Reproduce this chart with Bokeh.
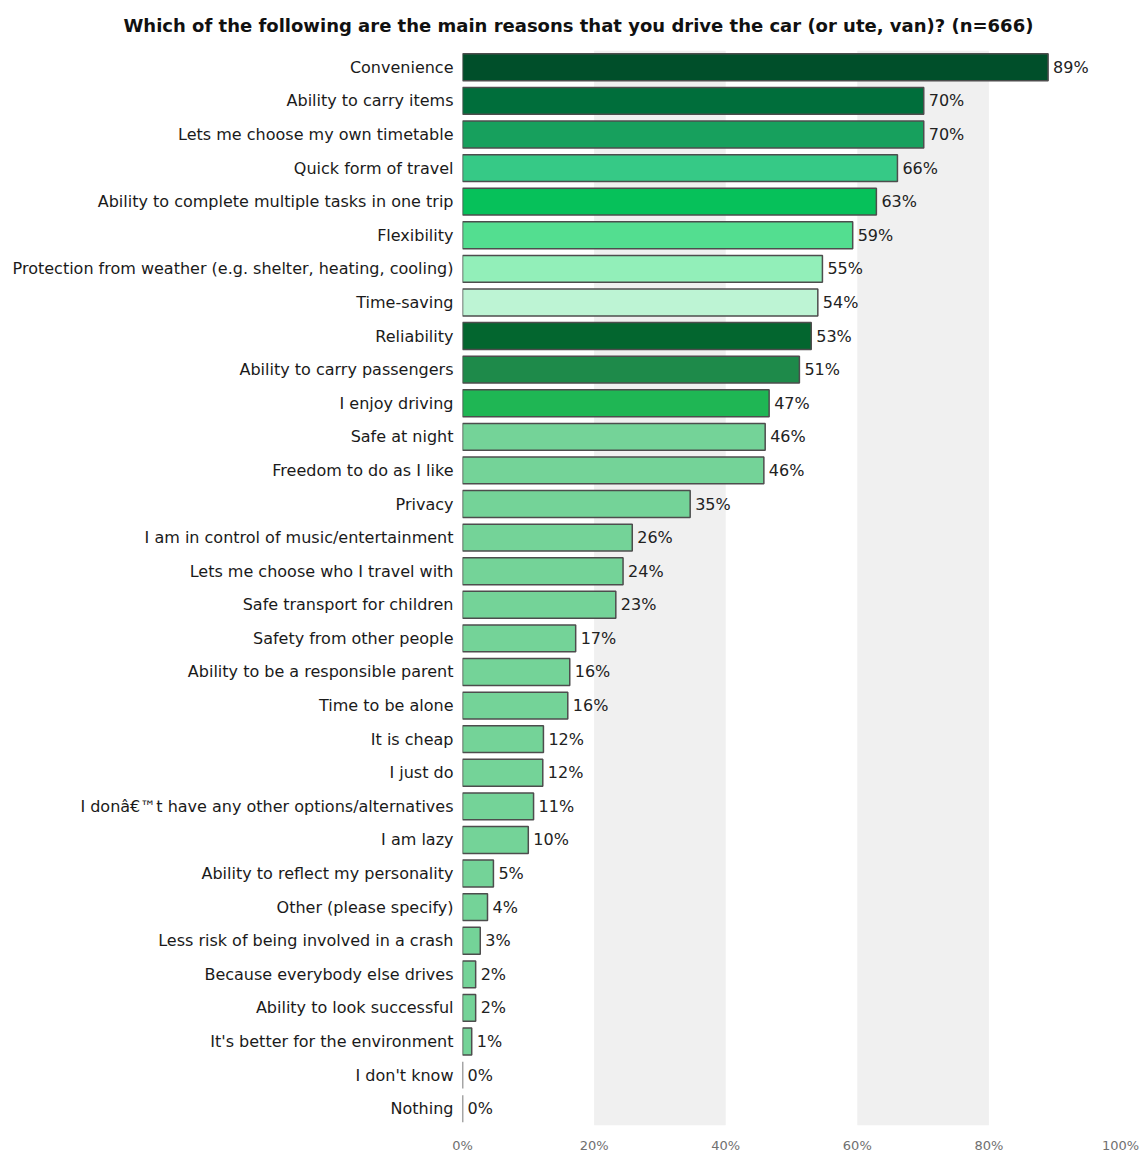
from bokeh.plotting import figure
from bokeh.models import FactorRange, Range1d, BoxAnnotation, FixedTicker, PrintfTickFormatter, ColumnDataSource
from bokeh.core.properties import value
from bokeh.embed import file_html
from bokeh.resources import INLINE

title_text = "Which of the following are the main reasons that you drive the car (or ute, van)? (n=666)"

categories = [
    "Convenience",
    "Ability to carry items",
    "Lets me choose my own timetable",
    "Quick form of travel",
    "Ability to complete multiple tasks in one trip",
    "Flexibility",
    "Protection from weather (e.g. shelter, heating, cooling)",
    "Time-saving",
    "Reliability",
    "Ability to carry passengers",
    "I enjoy driving",
    "Safe at night",
    "Freedom to do as I like",
    "Privacy",
    "I am in control of music/entertainment",
    "Lets me choose who I travel with",
    "Safe transport for children",
    "Safety from other people",
    "Ability to be a responsible parent",
    "Time to be alone",
    "It is cheap",
    "I just do",
    "I donâ€™t have any other options/alternatives",
    "I am lazy",
    "Ability to reflect my personality",
    "Other (please specify)",
    "Less risk of being involved in a crash",
    "Because everybody else drives",
    "Ability to look successful",
    "It's better for the environment",
    "I don't know",
    "Nothing",
]

values = [89.0, 70.1, 70.1, 66.1, 62.9, 59.3, 54.7, 54.0, 53.0, 51.2, 46.6, 46.0, 45.8,
          34.6, 25.8, 24.4, 23.3, 17.2, 16.3, 16.0, 12.3, 12.2, 10.8, 10.0, 4.7, 3.8,
          2.7, 2.0, 2.0, 1.4, 0.0, 0.0]

colors = ["#004f2a", "#006e3b", "#17a05d", "#36c986", "#06c15a", "#53de90", "#92efb9",
          "#bdf4d4", "#03662f", "#1e8a4a", "#1fb654"] + ["#74d398"] * 21

tick_values = [0, 20, 40, 60, 80, 100]
bands = [(20, 40), (60, 80)]

labels = ["%d%%" % round(v) for v in values]

src = ColumnDataSource(dict(cat=categories, val=values, col=colors, lab=labels))

FONT = "DejaVu Sans"

p = figure(width=1148, height=1155,
           y_range=FactorRange(*list(reversed(categories))),
           x_range=Range1d(0, 100),
           output_backend="svg", toolbar_location=None,
           min_border_left=462, min_border_right=28,
           min_border_top=50, min_border_bottom=28)

p.title.text = title_text
p.title.align = "left"
p.title.offset = -339
p.title.standoff = 26
p.title.vertical_align = "top"
p.title.text_font = FONT
p.title.text_font_size = "18px"
p.title.text_font_style = "bold"
p.title.text_color = "#111111"

for a, b in bands:
    p.add_layout(BoxAnnotation(left=a, right=b, fill_color="#f0f0f0", fill_alpha=1.0,
                               line_color=None, level="underlay"))

p.hbar(y="cat", right="val", left=0, height=0.8, fill_color="col",
       line_color="#4d4d4d", line_width=1.5, source=src)

p.text(x="val", y="cat", text="lab", x_offset=5, text_baseline="middle",
       text_align="left", text_font=value(FONT), text_font_size="16px",
       text_color="#222222", source=src)

p.xgrid.grid_line_color = None
p.ygrid.grid_line_color = None
p.outline_line_color = None

ya = p.yaxis[0]
ya.axis_line_color = None
ya.major_tick_line_color = None
ya.minor_tick_line_color = None
ya.major_tick_out = 0
ya.major_label_standoff = 9
ya.major_label_text_font = FONT
ya.major_label_text_font_size = "16px"
ya.major_label_text_color = "#1a1a1a"

xa = p.xaxis[0]
xa.ticker = FixedTicker(ticks=tick_values)
xa.formatter = PrintfTickFormatter(format="%d%%")
xa.axis_line_color = None
xa.major_tick_line_color = None
xa.minor_tick_line_color = None
xa.major_tick_out = 0
xa.major_label_standoff = 12
xa.major_label_text_font = FONT
xa.major_label_text_font_size = "13px"
xa.major_label_text_color = "#707070"

open("out.html", "w").write(file_html(p, INLINE))
